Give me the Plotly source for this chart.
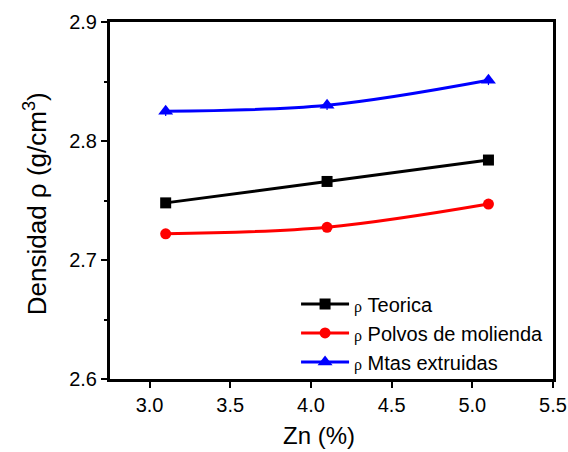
import plotly.graph_objects as go

zn = [3.1, 4.1, 5.1]
teorica = [2.748, 2.766, 2.784]
polvos = [2.722, 2.7275, 2.747]
mtas = [2.825, 2.830, 2.851]
mtas_err = [0.004, 0.004, 0.004]

x_ticks = [3.0, 3.5, 4.0, 4.5, 5.0, 5.5]
y_ticks = [2.6, 2.7, 2.8, 2.9]

rho = "<span style='font-family:Times New Roman, serif;font-size:16px'>ρ</span>"

fig = go.Figure()
fig.add_trace(go.Scatter(
    x=zn, y=teorica, mode="lines+markers",
    name=rho + " Teorica",
    line=dict(color="black", width=3, shape="spline"),
    marker=dict(symbol="square", size=11, color="black")))
fig.add_trace(go.Scatter(
    x=zn, y=polvos, mode="lines+markers",
    name=rho + " Polvos de molienda",
    line=dict(color="red", width=3, shape="spline"),
    marker=dict(symbol="circle", size=11, color="red")))
fig.add_trace(go.Scatter(
    x=zn, y=mtas, mode="lines+markers",
    name=rho + " Mtas extruidas",
    line=dict(color="blue", width=3, shape="spline"),
    marker=dict(symbol="triangle-up", size=13, color="blue"),
    error_y=dict(type="data", array=mtas_err, color="blue", thickness=1.2, width=0)))

axis_common = dict(showline=True, linecolor="black", linewidth=3, mirror=True,
                   ticks="outside", tickwidth=2, ticklen=6, tickcolor="black",
                   showgrid=False, zeroline=False, automargin=False,
                   tickfont=dict(family="Arial, Liberation Sans", size=20, color="black"))

fig.update_xaxes(range=[2.755, 5.5], tickvals=x_ticks, ticktext=[f"{v:.1f}" for v in x_ticks],
                 **axis_common)
fig.update_yaxes(range=[2.6, 2.9], tickvals=y_ticks, ticktext=[f"{v:.1f}" for v in y_ticks],
                 minor=dict(ticks="outside", tickvals=[2.65, 2.75, 2.85], ticklen=3, tickwidth=2, tickcolor="black"),
                 **axis_common)

fig.add_annotation(text="Zn (%)", xref="paper", yref="paper", x=0.4707, y=-0.159,
                   xanchor="center", yanchor="middle", showarrow=False,
                   font=dict(family="Arial, Liberation Sans", size=24, color="black"))
fig.add_annotation(text="Densidad ρ (g/cm<sup>3</sup>)", xref="paper", yref="paper", x=-0.169, y=0.49,
                   xanchor="center", yanchor="middle", textangle=-90, showarrow=False,
                   font=dict(family="Arial, Liberation Sans", size=26, color="black"))

fig.update_layout(
    width=568, height=452,
    margin=dict(l=110, r=15, t=22, b=73),
    plot_bgcolor="white", paper_bgcolor="white",
    showlegend=True,
    legend=dict(x=0.42, y=0.265, xanchor="left", yanchor="top",
                bgcolor="rgba(0,0,0,0)", borderwidth=0,
                font=dict(family="Arial, Liberation Sans", size=20, color="black"),
                itemwidth=48, tracegroupgap=0),
)

fig.write_html("out.html")
